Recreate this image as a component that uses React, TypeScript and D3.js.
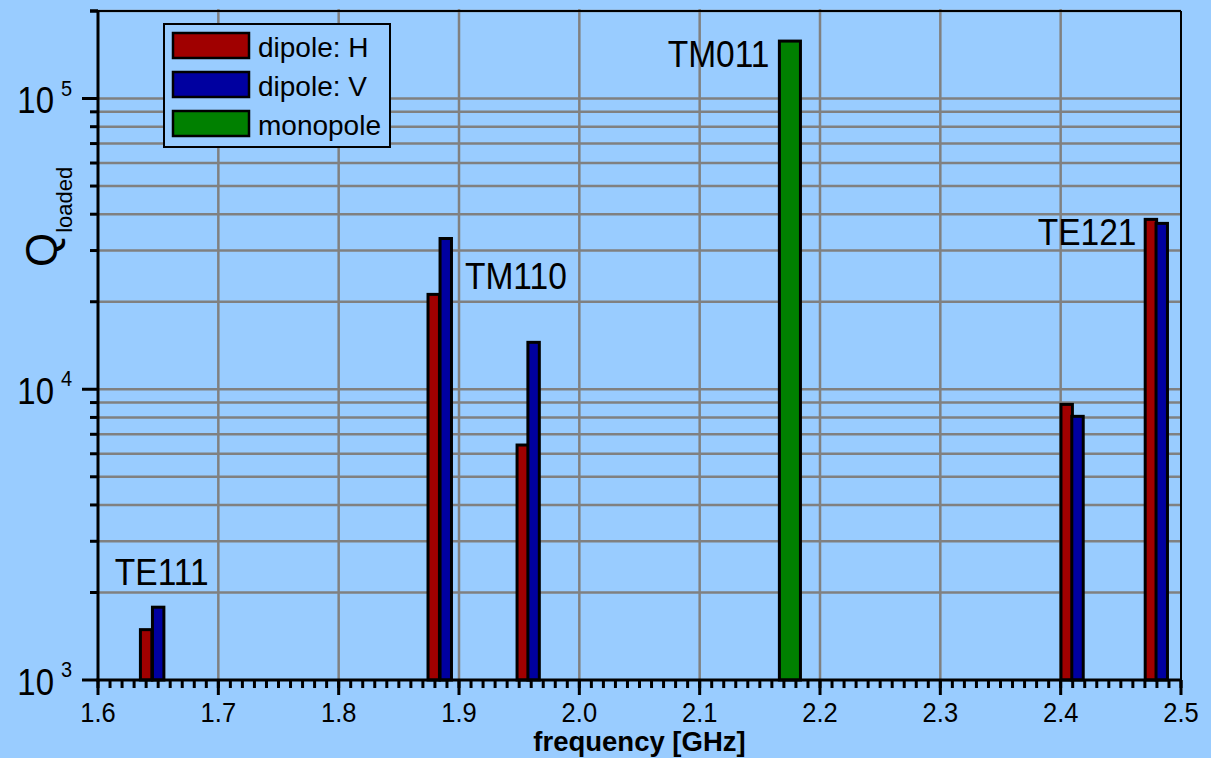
import React from 'react';
import * as d3 from 'd3';

// mode groups, frequency in GHz, loaded Q
const dipoleHFreq = [1.640, 1.879, 1.953, 2.405, 2.475];
const dipoleHQ = [1490, 21200, 6430, 8870, 38400];
const dipoleVFreq = [1.650, 1.889, 1.962, 2.414, 2.484];
const dipoleVQ = [1780, 33000, 14500, 8070, 37200];
const monopoleFreq = [2.175];
const monopoleQ = [157600];

const modeLabels = ['TE111', 'TM110', 'TM011', 'TE121'];
const modeLabelFreq = [1.614, 1.905, 2.158, 2.463];
const modeLabelQ = [2120, 22100, 128000, 31300];
const modeLabelAnchor = ['start', 'start', 'end', 'end'];

const xTicks = ['1.6', '1.7', '1.8', '1.9', '2.0', '2.1', '2.2', '2.3', '2.4', '2.5'];
const yDecades = [3, 4, 5];

const legendNames = ['dipole: H', 'dipole: V', 'monopole'];

const W = 1211, H = 758;
const BG = '#99ccff';
const RED = '#a00000', BLUE = '#0000a0', GREEN = '#008000';
const GRID = '#808080';
const FONT = '"Liberation Sans", Arial, sans-serif';

const x = d3.scaleLinear().domain([1.6, 2.5]).range([98, 1181]);
const y = d3.scaleLog().domain([1e3, 2e5]).range([680, 11]);

const dipoleW = 0.0095;
const monoW = 0.0175;

export default function App() {
	const minorY: number[] = [];
	[1e3, 1e4, 1e5].forEach(d => { for (let k = 2; k <= 9; k++) if (d * k <= 2e5) minorY.push(d * k); });
	const minorX = d3.range(160, 251).map(v => v / 100);
	const [x0, x1] = x.range();
	const [y0, y1] = y.range();

	const bar = (f: number, q: number, w: number, fill: string, key: string) =>
		<rect key={key} x={x(f - w / 2)} y={y(q)} width={x(f + w / 2) - x(f - w / 2)} height={y0 - y(q)}
			fill={fill} stroke="#000" strokeWidth={3} />;

	return (
		<svg width={W} height={H} style={{ position: 'absolute', left: 0, top: 0, background: BG }} fontFamily={FONT}>
			<rect width={W} height={H} fill={BG} />
			{/* grid */}
			{xTicks.slice(1, -1).map(t => <line key={'gx' + t} x1={x(+t)} x2={x(+t)} y1={y1 - 2} y2={y0} stroke={GRID} strokeWidth={2.5} />)}
			{[...minorY, 1e4, 1e5].map(v => <line key={'gy' + v} x1={x0} x2={x1} y1={y(v)} y2={y(v)} stroke={GRID} strokeWidth={2.5} />)}

			{/* bars */}
			{dipoleHFreq.map((f, i) => bar(f, dipoleHQ[i], dipoleW, RED, 'h' + i))}
			{dipoleVFreq.map((f, i) => bar(f, dipoleVQ[i], dipoleW, BLUE, 'v' + i))}
			{monopoleFreq.map((f, i) => bar(f, monopoleQ[i], monoW, GREEN, 'm' + i))}

			{/* frame */}
			<line x1={x0} x2={x1} y1={y1} y2={y1} stroke="#000" strokeWidth={2} />
			<line x1={x1} x2={x1} y1={y1} y2={y0} stroke="#000" strokeWidth={2} />
			<line x1={x0} x2={x0} y1={y1} y2={y0 + 1.5} stroke="#000" strokeWidth={3} />
			<line x1={x0 - 1.5} x2={x1 + 1} y1={y0} y2={y0} stroke="#000" strokeWidth={3} />

			{/* x ticks */}
			{minorX.map(v => <line key={'mx' + v} x1={x(v)} x2={x(v)} y1={y0} y2={y0 + 8} stroke="#000" strokeWidth={3} />)}
			{xTicks.map(t => <g key={'tx' + t}>
				<line x1={x(+t)} x2={x(+t)} y1={y0} y2={y0 + 15} stroke="#000" strokeWidth={3} />
				<text transform={`translate(${x(+t)},722) scale(1,1.1)`} textAnchor="middle" fontSize={25.5}>{t}</text>
			</g>)}
			<text x={(x0 + x1) / 2} y={751} textAnchor="middle" fontSize={27.5} fontWeight="bold">frequency [GHz]</text>

			{/* y ticks */}
			{[...minorY, 2e5].map(v => <line key={'my' + v} x1={x0 - 8} x2={x0} y1={y(v)} y2={y(v)} stroke="#000" strokeWidth={3} />)}
			{yDecades.map(e => <g key={'ty' + e}>
				<line x1={x0 - 16} x2={x0} y1={y(10 ** e)} y2={y(10 ** e)} stroke="#000" strokeWidth={3} />
				<text transform={`translate(54,${y(10 ** e) + 14.5}) scale(1,1.1)`} textAnchor="end" fontSize={33}>10</text>
				<text transform={`translate(61,${y(10 ** e) - 3}) scale(1,1.1)`} fontSize={20}>{e}</text>
			</g>)}
			<text transform="translate(57,267) rotate(-90)" fontSize={44}>Q<tspan fontSize={22} dy={15}>loaded</tspan></text>

			{/* mode labels */}
			{modeLabels.map((l, i) =>
				<text key={l} transform={`translate(${x(modeLabelFreq[i])},${y(modeLabelQ[i])}) scale(1,1.13)`}
					textAnchor={modeLabelAnchor[i]} fontSize={33.5}>{l}</text>)}

			{/* legend */}
			<rect x={164} y={24} width={226} height={123} fill={BG} stroke="#000" strokeWidth={2} />
			{legendNames.map((n, i) => {
				const ty = 33 + i * 39;
				return <g key={n}>
					<rect x={173} y={ty} width={76} height={25} fill={[RED, BLUE, GREEN][i]} stroke="#000" strokeWidth={2.5} />
					<text x={258} y={ty + 24} fontSize={28}>{n}</text>
				</g>;
			})}
		</svg>
	);
}
